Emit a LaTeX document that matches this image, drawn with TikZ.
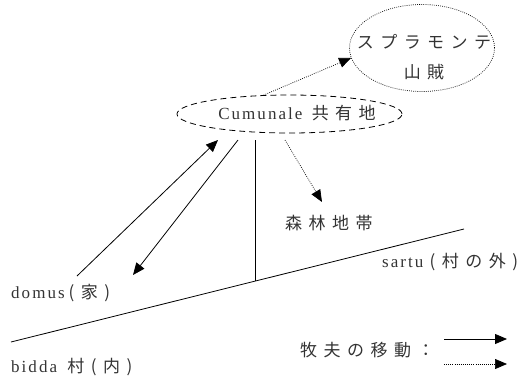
\documentclass[tikz,border=0pt]{standalone}
\usepackage{fontspec}
\setmainfont{Liberation Serif}[LetterSpace=12]
\newfontfamily\jpf{Noto Sans CJK JP}[LetterSpace=38]
\usetikzlibrary{shapes.geometric,arrows.meta}
\newcommand\J[1]{{\jpf #1}}
\tikzset{
  lbl/.style={font=\fontsize{17}{20}\selectfont, text=black!80, inner sep=0pt},
  tip/.style={-{Triangle[length=12pt,width=10pt]}},
  solidline/.style={line width=0.8pt},
  dotline/.style={line width=0.7pt, dash pattern=on 0.8pt off 1.3pt},
  dashline/.style={line width=0.8pt, dash pattern=on 6pt off 4pt},
}
\begin{document}
\begin{tikzpicture}[x=1pt,y=-1pt]
\useasboundingbox (0,0) rectangle (521,375);
% ellipses
\node[ellipse, draw, dotline, minimum width=145pt, minimum height=87pt, inner sep=0pt] (sp) at (422,48) {};
\node[lbl] (sptext) at (424,42) {\J{スプラモンテ}};
\node[lbl] (santext) at (424,72) {\J{山賊}};
\node[ellipse, draw, dashline, minimum width=225pt, minimum height=38pt, inner sep=0pt] (cum) at (289.5,114) {};
\node[lbl] (cumtext) at (297,113) {Cumunale\hspace{3pt} \J{共有地}};
% labels
\node[lbl, anchor=west] (domus) at (11,293) {domus\hspace{4pt}\J{(家)}};
\node[lbl, anchor=west] (bidda) at (11,367) {bidda\hspace{4pt} \J{村(内)}};
\node[lbl, anchor=west] (sartu) at (382,262) {sartu \J{(村の外)}};
\node[lbl, anchor=west] (forest) at (285,223) {\J{森林地帯}};
\node[lbl, anchor=west] (legend) at (300,350) {\J{牧夫の移動：}};
% coordinates
\coordinate (L) at (11,342);
\coordinate (R) at (464,229);
\coordinate (vtop) at (255,140);
\coordinate (vbot) at (255,281);
\coordinate (a1s) at (77,276);
\coordinate (a1e) at (218,140);
\coordinate (a2s) at (238,140);
\coordinate (a2e) at (133,275);
\coordinate (fs) at (285,140);
\coordinate (fe) at (322,202);
\coordinate (ls1) at (444,339);
\coordinate (le1) at (507,339);
\coordinate (ls2) at (444,364);
\coordinate (le2) at (507,364);
% connectors
\draw[solidline] (L) -- (R);
\draw[solidline] (vtop) -- (vbot);
\draw[solidline, tip] (a1s) -- (a1e);
\draw[solidline, tip] (a2s) -- (a2e);
\draw[dotline, tip] (fs) -- (fe);
\draw[dotline, tip] (cum.144) -- (sp.188);
\draw[solidline, tip] (ls1) -- (le1);
\draw[dotline, tip] (ls2) -- (le2);
\end{tikzpicture}
\end{document}
